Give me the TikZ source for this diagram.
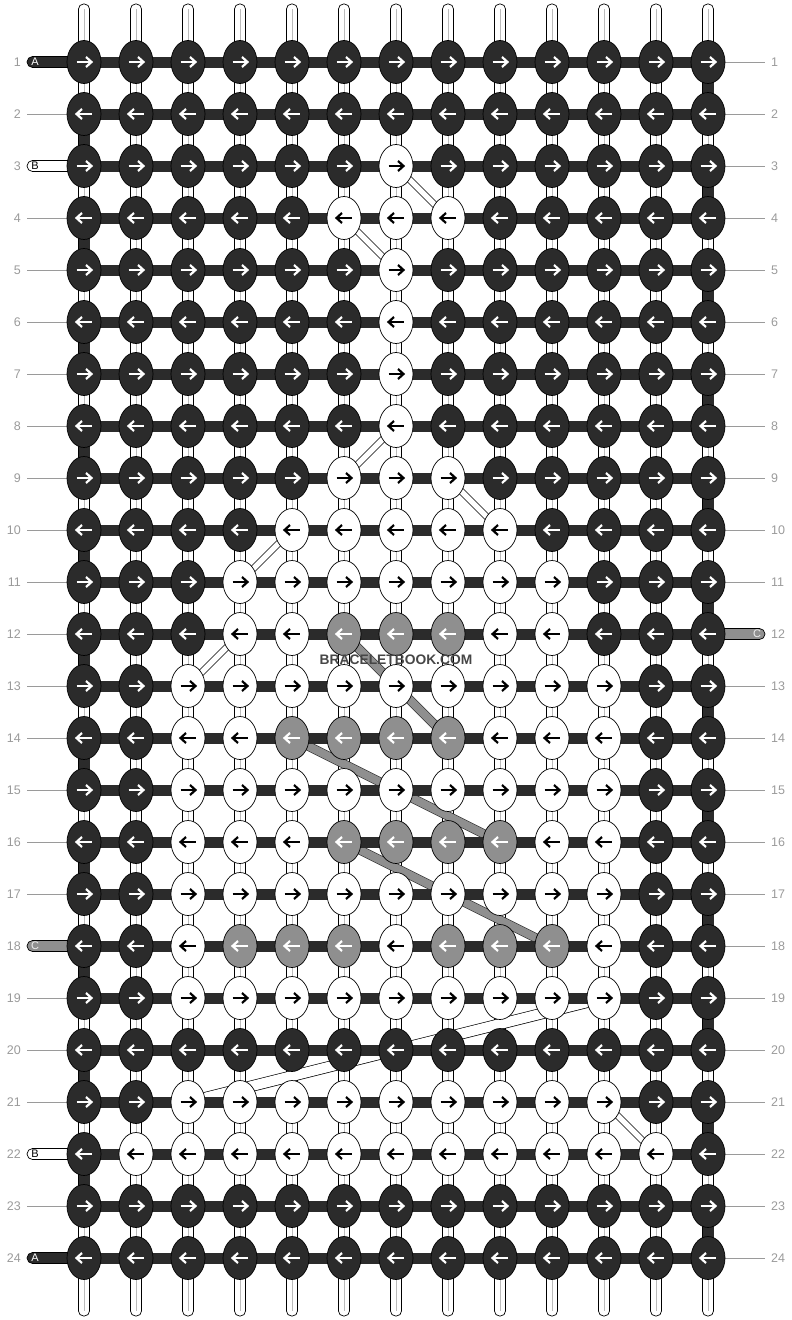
\documentclass[tikz,border=0pt]{standalone}
\usepackage{fontspec}
\setmainfont{Liberation Sans}
\usetikzlibrary{shapes.geometric}
\definecolor{knD}{HTML}{2B2B2B}
\definecolor{knW}{HTML}{FFFFFF}
\definecolor{knG}{HTML}{8F8F8F}
\definecolor{arD}{HTML}{FFFFFF}
\definecolor{arW}{HTML}{000000}
\definecolor{arG}{HTML}{FFFFFF}
\definecolor{numC}{HTML}{9A9A9A}
\definecolor{strC}{HTML}{BBBBBB}
\definecolor{wmC}{HTML}{464646}
\definecolor{tabCtext}{HTML}{EEEEEE}
\pgfdeclarelayer{strl}\pgfdeclarelayer{bandl}\pgfdeclarelayer{barl}
\pgfsetlayers{strl,bandl,barl,main}
\tikzset{
  knot/.style={ellipse, draw=black, line width=0.7pt, minimum width=34pt, minimum height=43pt, inner sep=0pt, fill=kn#1},
  rbar/.style={draw=knD, line width=11pt},
  gline/.style={draw=numC, line width=0.8pt},
  numL/.style={text=numC, font=\fontsize{12.5}{14}\selectfont, inner sep=0pt},
  tabtxt/.style={font=\fontsize{11}{12}\selectfont, inner sep=0pt},
  tabbox/.style={draw=black, line width=0.7pt, rounded corners=5.5pt},
  wband/.style={draw=black, line width=0.7pt, double=white, double distance=5.5pt},
  wbandwide/.style={draw=black, line width=0.7pt, double=white, double distance=10pt},
  gband/.style={draw=black!80, line width=0.6pt, double=knG, double distance=8pt},
  vstr/.style={draw=black, line width=0.7pt, fill=white, rounded corners=5pt},
  arrR/.pic={\draw[line width=2.2pt] (-7.5,0) -- (6.5,0);
             \draw[line width=2.2pt, line join=miter] (2,-5) -- (7.5,0) -- (2,5);},
  arrL/.pic={\draw[line width=2.2pt] (7.5,0) -- (-6.5,0);
             \draw[line width=2.2pt, line join=miter] (-2,-5) -- (-7.5,0) -- (-2,5);}
}
\begin{document}
\begin{tikzpicture}[x=1pt,y=-1pt]
\useasboundingbox (0,0) rectangle (792,1320);
% knots
\foreach \rr/\pat in {
1/{D,D,D,D,D,D,D,D,D,D,D,D,D},
2/{D,D,D,D,D,D,D,D,D,D,D,D,D},
3/{D,D,D,D,D,D,W,D,D,D,D,D,D},
4/{D,D,D,D,D,W,W,W,D,D,D,D,D},
5/{D,D,D,D,D,D,W,D,D,D,D,D,D},
6/{D,D,D,D,D,D,W,D,D,D,D,D,D},
7/{D,D,D,D,D,D,W,D,D,D,D,D,D},
8/{D,D,D,D,D,D,W,D,D,D,D,D,D},
9/{D,D,D,D,D,W,W,W,D,D,D,D,D},
10/{D,D,D,D,W,W,W,W,W,D,D,D,D},
11/{D,D,D,W,W,W,W,W,W,W,D,D,D},
12/{D,D,D,W,W,G,G,G,W,W,D,D,D},
13/{D,D,W,W,W,W,W,W,W,W,W,D,D},
14/{D,D,W,W,G,G,G,G,W,W,W,D,D},
15/{D,D,W,W,W,W,W,W,W,W,W,D,D},
16/{D,D,W,W,W,G,G,G,G,W,W,D,D},
17/{D,D,W,W,W,W,W,W,W,W,W,D,D},
18/{D,D,W,G,G,G,W,G,G,G,W,D,D},
19/{D,D,W,W,W,W,W,W,W,W,W,D,D},
20/{D,D,D,D,D,D,D,D,D,D,D,D,D},
21/{D,D,W,W,W,W,W,W,W,W,W,D,D},
22/{D,W,W,W,W,W,W,W,W,W,W,W,D},
23/{D,D,D,D,D,D,D,D,D,D,D,D,D},
24/{D,D,D,D,D,D,D,D,D,D,D,D,D}}{
  \foreach \kk [count=\cc] in \pat {
    \node[knot=\kk] (k-\rr-\cc) at ({84+52*(\cc-1)},{62+52*(\rr-1)}) {};
    \ifodd\rr
      \pic[color=ar\kk] at (k-\rr-\cc.center) {arrR};
    \else
      \pic[color=ar\kk] at (k-\rr-\cc.center) {arrL};
    \fi
  }
}
% vertical strings
\begin{pgfonlayer}{strl}
\foreach \cc in {1,...,13}{
  \coordinate (st-\cc-t) at ({84+52*(\cc-1)},4);
  \coordinate (st-\cc-b) at ({84+52*(\cc-1)},1316);
  \draw[vstr] ([xshift=-5.5pt]st-\cc-t) rectangle ([xshift=5.5pt]st-\cc-b);
  \draw[strC, line width=0.9pt] ([yshift=-5pt]st-\cc-t) -- ([yshift=5pt]st-\cc-b);
}
% number lines
\foreach \rr in {2,4,5,6,7,8,9,10,11,12,13,14,15,16,17,19,20,21,23}{
  \coordinate (gl-\rr) at (27,{62+52*(\rr-1)});
  \draw[gline] (gl-\rr) -- (k-\rr-1);
}
\foreach \rr in {1,...,11,13,14,15,16,17,18,19,20,21,22,23,24}{
  \coordinate (gr-\rr) at (765,{62+52*(\rr-1)});
  \draw[gline] (k-\rr-13) -- (gr-\rr);
}
\end{pgfonlayer}
% diagonal bands
\begin{pgfonlayer}{bandl}
\draw[wband] (k-3-7.center) -- (k-4-8.center);
\draw[wband] (k-4-6.center) -- (k-5-7.center);
\draw[wband] (k-8-7.center) -- (k-9-6.center);
\draw[wband] (k-9-8.center) -- (k-10-9.center);
\draw[wband] (k-10-5.center) -- (k-11-4.center);
\draw[wband] (k-12-4.center) -- (k-13-3.center);
\draw[wbandwide] (k-19-11.center) -- (k-21-3.center);
\draw[wband] (k-21-11.center) -- (k-22-12.center);
\draw[gband] (k-12-6.center) -- (k-14-8.center);
\draw[gband] (k-14-5.center) -- (k-16-9.center);
\draw[gband] (k-16-6.center) -- (k-18-10.center);
\end{pgfonlayer}
% row bars, edge turns, tabs
\begin{pgfonlayer}{barl}
\foreach \rr in {1,...,24}{
  \foreach \cc [evaluate=\cc as \cn using int(\cc+1)] in {1,...,12}{
    \draw[rbar] (k-\rr-\cc.center) -- (k-\rr-\cn.center);
  }
}
\foreach \rr [evaluate=\rr as \rn using int(\rr+1)] in {2,4,...,22}{
  \draw[rbar] (k-\rr-1.center) -- (k-\rn-1.center);
}
\foreach \rr [evaluate=\rr as \rn using int(\rr+1)] in {1,3,...,23}{
  \draw[rbar] (k-\rr-13.center) -- (k-\rn-13.center);
}
\coordinate (tl-1) at (27,62);
\coordinate (tl-3) at (27,166);
\coordinate (tl-18) at (27,946);
\coordinate (tl-22) at (27,1154);
\coordinate (tl-24) at (27,1258);
\coordinate (tr-12) at (765,634);
\draw[tabbox, fill=knD] ([yshift=5.5pt]tl-1) rectangle ([yshift=-5.5pt]k-1-1.center);
\draw[tabbox, fill=white] ([yshift=5.5pt]tl-3) rectangle ([yshift=-5.5pt]k-3-1.center);
\draw[tabbox, fill=knG] ([yshift=5.5pt]tl-18) rectangle ([yshift=-5.5pt]k-18-1.center);
\draw[tabbox, fill=white] ([yshift=5.5pt]tl-22) rectangle ([yshift=-5.5pt]k-22-1.center);
\draw[tabbox, fill=knD] ([yshift=5.5pt]tl-24) rectangle ([yshift=-5.5pt]k-24-1.center);
\draw[tabbox, fill=knG] ([yshift=5.5pt]k-12-13.center) rectangle ([yshift=-5.5pt]tr-12);
\end{pgfonlayer}
% tab letters
\node[tabtxt, text=white] (ta-1) at (35,62) {A};
\node[tabtxt, text=black] (ta-3) at (35,166) {B};
\node[tabtxt, text=tabCtext] (ta-18) at (35,946) {C};
\node[tabtxt, text=black] (ta-22) at (35,1154) {B};
\node[tabtxt, text=white] (ta-24) at (35,1258) {A};
\node[tabtxt, text=tabCtext] (ta-r12) at (757,634) {C};
% row numbers
\foreach \rr in {1,...,24}{
  \node[numL, anchor=east] (nl-\rr) at (21,{62+52*(\rr-1)}) {\rr};
  \node[numL, anchor=west] (nr-\rr) at (771,{62+52*(\rr-1)}) {\rr};
}
% watermark
\node[font=\bfseries\fontsize{13.8}{15}\selectfont, text=wmC, inner sep=0pt] (wm) at (396,660) {BRACELETBOOK.COM};
\end{tikzpicture}
\end{document}
